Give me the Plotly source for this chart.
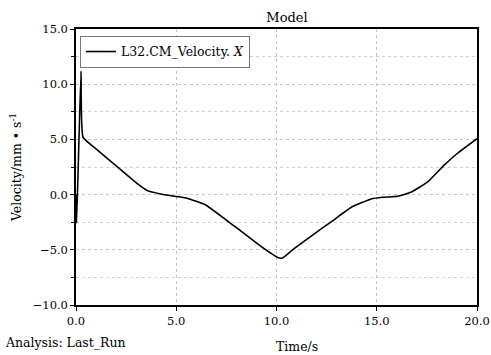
import plotly.graph_objects as go

time_s = [0.0, 0.03, 0.25, 0.35, 1.09, 2.08, 3.07, 3.56, 4.22, 5.05, 5.54, 6.47,
          7.87, 9.19, 10.1, 10.3, 10.84, 11.75, 12.74, 13.73, 14.72, 15.3, 16.04,
          16.7, 17.52, 18.35, 19.0, 20.0]
velocity = [0.0, -2.6, 11.2, 5.2, 4.0, 2.48, 0.97, 0.36, 0.06, -0.18, -0.33, -0.94,
            -2.82, -4.64, -5.72, -5.74, -4.94, -3.73, -2.45, -1.15, -0.39, -0.24, -0.15,
            0.21, 1.12, 2.64, 3.7, 5.06]

x_ticks = [0, 5, 10, 15, 20]
x_tick_labels = ["0.0", "5.0", "10.0", "15.0", "20.0"]
y_ticks = [-10, -5, 0, 5, 10, 15]
y_tick_labels = ["\u221210.0", "\u22125.0", "0.0", "5.0", "10.0", "15.0"]

font = "DejaVu Serif"

fig = go.Figure()
fig.add_trace(go.Scatter(x=time_s, y=velocity, mode="lines",
                         name="L32.CM_Velocity. <i>X</i>",
                         line=dict(color="black", width=1.6, shape="spline", smoothing=0.4)))

L, R, T, B = 76, 14, 29, 50
plot_w = 491 - L - R
plot_h = 355 - T - B

fig.update_layout(
    width=491, height=355,
    margin=dict(l=L, r=R, t=T, b=B, autoexpand=False),
    paper_bgcolor="white", plot_bgcolor="white",
    font=dict(family=font, size=12, color="black"),
    showlegend=True,
    legend=dict(x=0.01, y=0.975, xanchor="left", yanchor="top",
                bordercolor="#777", borderwidth=1, bgcolor="white",
                font=dict(family=font, size=12.5), itemwidth=30,
                tracegroupgap=0),
    title=dict(text="Model", x=287/491, xanchor="center", y=0.95, yanchor="middle",
               font=dict(family=font, size=13)),
    xaxis=dict(range=[0, 20], tickvals=x_ticks, ticktext=x_tick_labels,
               showline=True, linecolor="black", linewidth=1.5, mirror=True,
               ticks="outside", ticklen=4, tickcolor="black", automargin=False,
               ticklabeloverflow="allow",
               showgrid=True, gridcolor="#c4c4c4", griddash="dot", gridwidth=1,
               zeroline=False, tickfont=dict(family=font, size=11.5)),
    yaxis=dict(range=[-10, 15], tickvals=y_ticks, ticktext=y_tick_labels,
               showline=True, linecolor="black", linewidth=1.5, mirror=True,
               ticks="outside", ticklen=4, tickcolor="black", automargin=False,
               showgrid=True, gridcolor="#c4c4c4", griddash="dot", gridwidth=1,
               minor=dict(dtick=2.5, tick0=0, showgrid=True, gridcolor="#cfcfcf",
                          griddash="dot", ticks="outside", ticklen=3, tickcolor="black"),
               zeroline=False, tickfont=dict(family=font, size=11.5),
               title=dict(text="Velocity/mm \u2022 s<sup>-1</sup>", standoff=8,
                          font=dict(family=font, size=12.5))),
)

fig.add_annotation(text="Time/s", xref="paper", yref="paper",
                   x=(297 - L) / plot_w, y=-(346 - (355 - B)) / plot_h,
                   xanchor="center", yanchor="middle",
                   showarrow=False, font=dict(family=font, size=12.5))
fig.add_annotation(text="Analysis: Last_Run", xref="paper", yref="paper",
                   x=(3 - L) / plot_w, y=-(342 - (355 - B)) / plot_h,
                   xanchor="left", yanchor="middle",
                   showarrow=False, font=dict(family=font, size=12.5))

fig.write_html("out.html")
